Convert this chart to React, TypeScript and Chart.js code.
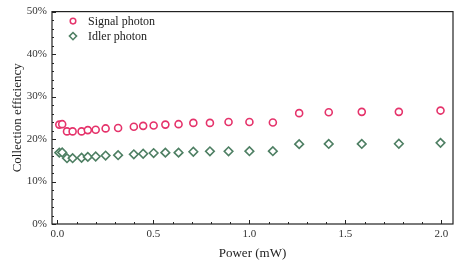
import React, { useEffect, useRef } from "react";
import { Chart, registerables } from "chart.js";

Chart.register(...registerables);

const power = [0.01, 0.0251, 0.0501, 0.0794, 0.1259, 0.1585, 0.1995, 0.2512, 0.3162, 0.3981, 0.4467, 0.5012, 0.5623, 0.631, 0.7079, 0.7943, 0.8913, 1.0, 1.122, 1.259, 1.413, 1.585, 1.778, 1.995];
const signalEff = [23.4, 23.5, 21.8, 21.8, 21.8, 22.1, 22.2, 22.5, 22.6, 22.9, 23.1, 23.2, 23.4, 23.5, 23.8, 23.8, 24.0, 24.0, 23.9, 26.1, 26.3, 26.4, 26.4, 26.7];
const idlerEff = [16.8, 16.85, 15.5, 15.5, 15.6, 15.8, 15.9, 16.1, 16.2, 16.4, 16.55, 16.7, 16.8, 16.8, 17.0, 17.1, 17.1, 17.15, 17.15, 18.8, 18.85, 18.85, 18.9, 19.1];
const seriesNames = ["Signal photon", "Idler photon"];
const xTitle = "Power (mW)";
const yTitle = "Collection efficiency";

const SIGNAL_COLOR = "#e5336b";
const IDLER_COLOR = "#4e7f63";
const FONT = "'Liberation Serif', 'Times New Roman', serif";

const framePlugin = {
  id: "frame",
  afterDraw(chart: any) {
    const { ctx, chartArea, scales } = chart;
    const { left, right, top, bottom } = chartArea;
    ctx.save();
    ctx.strokeStyle = "#222";
    ctx.lineWidth = 1.2;
    ctx.strokeRect(left, top, right - left, bottom - top);
    ctx.lineWidth = 1;
    const xs = scales.x;
    for (let i = 0; i <= 20; i++) {
      const v = i * 0.1;
      const px = Math.round(xs.getPixelForValue(v)) + 0.5;
      const len = i % 5 === 0 ? 4 : 2;
      ctx.beginPath();
      ctx.moveTo(px, bottom);
      ctx.lineTo(px, bottom - len);
      ctx.stroke();
    }
    const ys = scales.y;
    for (let i = 0; i <= 25; i++) {
      const v = i * 2;
      const py = Math.round(ys.getPixelForValue(v)) + 0.5;
      const len = i % 5 === 0 ? 4 : 2;
      ctx.beginPath();
      ctx.moveTo(left, py);
      ctx.lineTo(left + len, py);
      ctx.stroke();
    }
    const items = [
      { name: chart.data.datasets[0].label, color: SIGNAL_COLOR, style: "circle" },
      { name: chart.data.datasets[1].label, color: IDLER_COLOR, style: "rectRot" },
    ];
    ctx.font = `12px ${FONT}`;
    ctx.textBaseline = "middle";
    items.forEach((it, i) => {
      const cx = left + 21;
      const cy = top + 9.5 + i * 15;
      ctx.strokeStyle = it.color;
      ctx.fillStyle = "#fff";
      ctx.lineWidth = 1.5;
      ctx.beginPath();
      if (it.style === "circle") {
        ctx.arc(cx, cy, 2.8, 0, Math.PI * 2);
      } else {
        const r = 3.6;
        ctx.moveTo(cx, cy - r);
        ctx.lineTo(cx + r, cy);
        ctx.lineTo(cx, cy + r);
        ctx.lineTo(cx - r, cy);
        ctx.closePath();
      }
      ctx.fill();
      ctx.stroke();
      ctx.fillStyle = "#222";
      ctx.fillText(it.name, left + 36, cy + 0.5);
    });
    ctx.restore();
  },
};

export default function App() {
  const ref = useRef<HTMLCanvasElement>(null);
  useEffect(() => {
    const canvas = ref.current!;
    const chart = new Chart(canvas, {
      type: "scatter",
      data: {
        datasets: [
          {
            label: seriesNames[0],
            data: power.map((p, i) => ({ x: p, y: signalEff[i] })),
            pointStyle: "circle",
            pointRadius: 3.5,
            borderColor: SIGNAL_COLOR,
            backgroundColor: "#fff",
            pointBorderWidth: 1.6,
          },
          {
            label: seriesNames[1],
            data: power.map((p, i) => ({ x: p, y: idlerEff[i] })),
            pointStyle: "rectRot",
            pointRadius: 4.3,
            borderColor: IDLER_COLOR,
            backgroundColor: "#fff",
            pointBorderWidth: 1.6,
          },
        ],
      },
      options: {
        responsive: false,
        animation: false,
        layout: { padding: { left: 10, top: 8, right: 10, bottom: 0 } },
        plugins: { legend: { display: false }, tooltip: { enabled: false } },
        scales: {
          x: {
            type: "linear",
            min: -0.028,
            max: 2.06,
            afterFit: (s: any) => { s.height = 37; },
            afterBuildTicks: (s: any) => {
              s.ticks = [0, 0.5, 1, 1.5, 2].map((v) => ({ value: v }));
            },
            grid: { display: false, drawTicks: false },
            border: { display: false },
            ticks: {
              padding: 4,
              color: "#333",
              font: { family: FONT, size: 11 },
              callback: (v: any) => Number(v).toFixed(1),
            },
            title: {
              display: true,
              text: xTitle,
              color: "#222",
              font: { family: FONT, size: 13 },
              padding: { top: 2, bottom: 0 },
            },
          },
          y: {
            type: "linear",
            min: 0,
            max: 50,
            afterFit: (s: any) => { s.width = 42; },
            grid: { display: false, drawTicks: false },
            border: { display: false },
            ticks: {
              stepSize: 10,
              padding: 5,
              color: "#333",
              font: { family: FONT, size: 11 },
              callback: (v: any) => `${v}%`,
            },
            title: {
              display: true,
              text: yTitle,
              color: "#222",
              font: { family: FONT, size: 13 },
              padding: { top: 0, bottom: 2 },
            },
          },
        },
      },
      plugins: [framePlugin],
    } as any);
    return () => chart.destroy();
  }, []);
  return (
    <div style={{ position: "fixed", left: 0, top: 0, width: 463, height: 261, background: "#fff" }}>
      <canvas ref={ref} width={463} height={261} style={{ display: "block" }} />
    </div>
  );
}
